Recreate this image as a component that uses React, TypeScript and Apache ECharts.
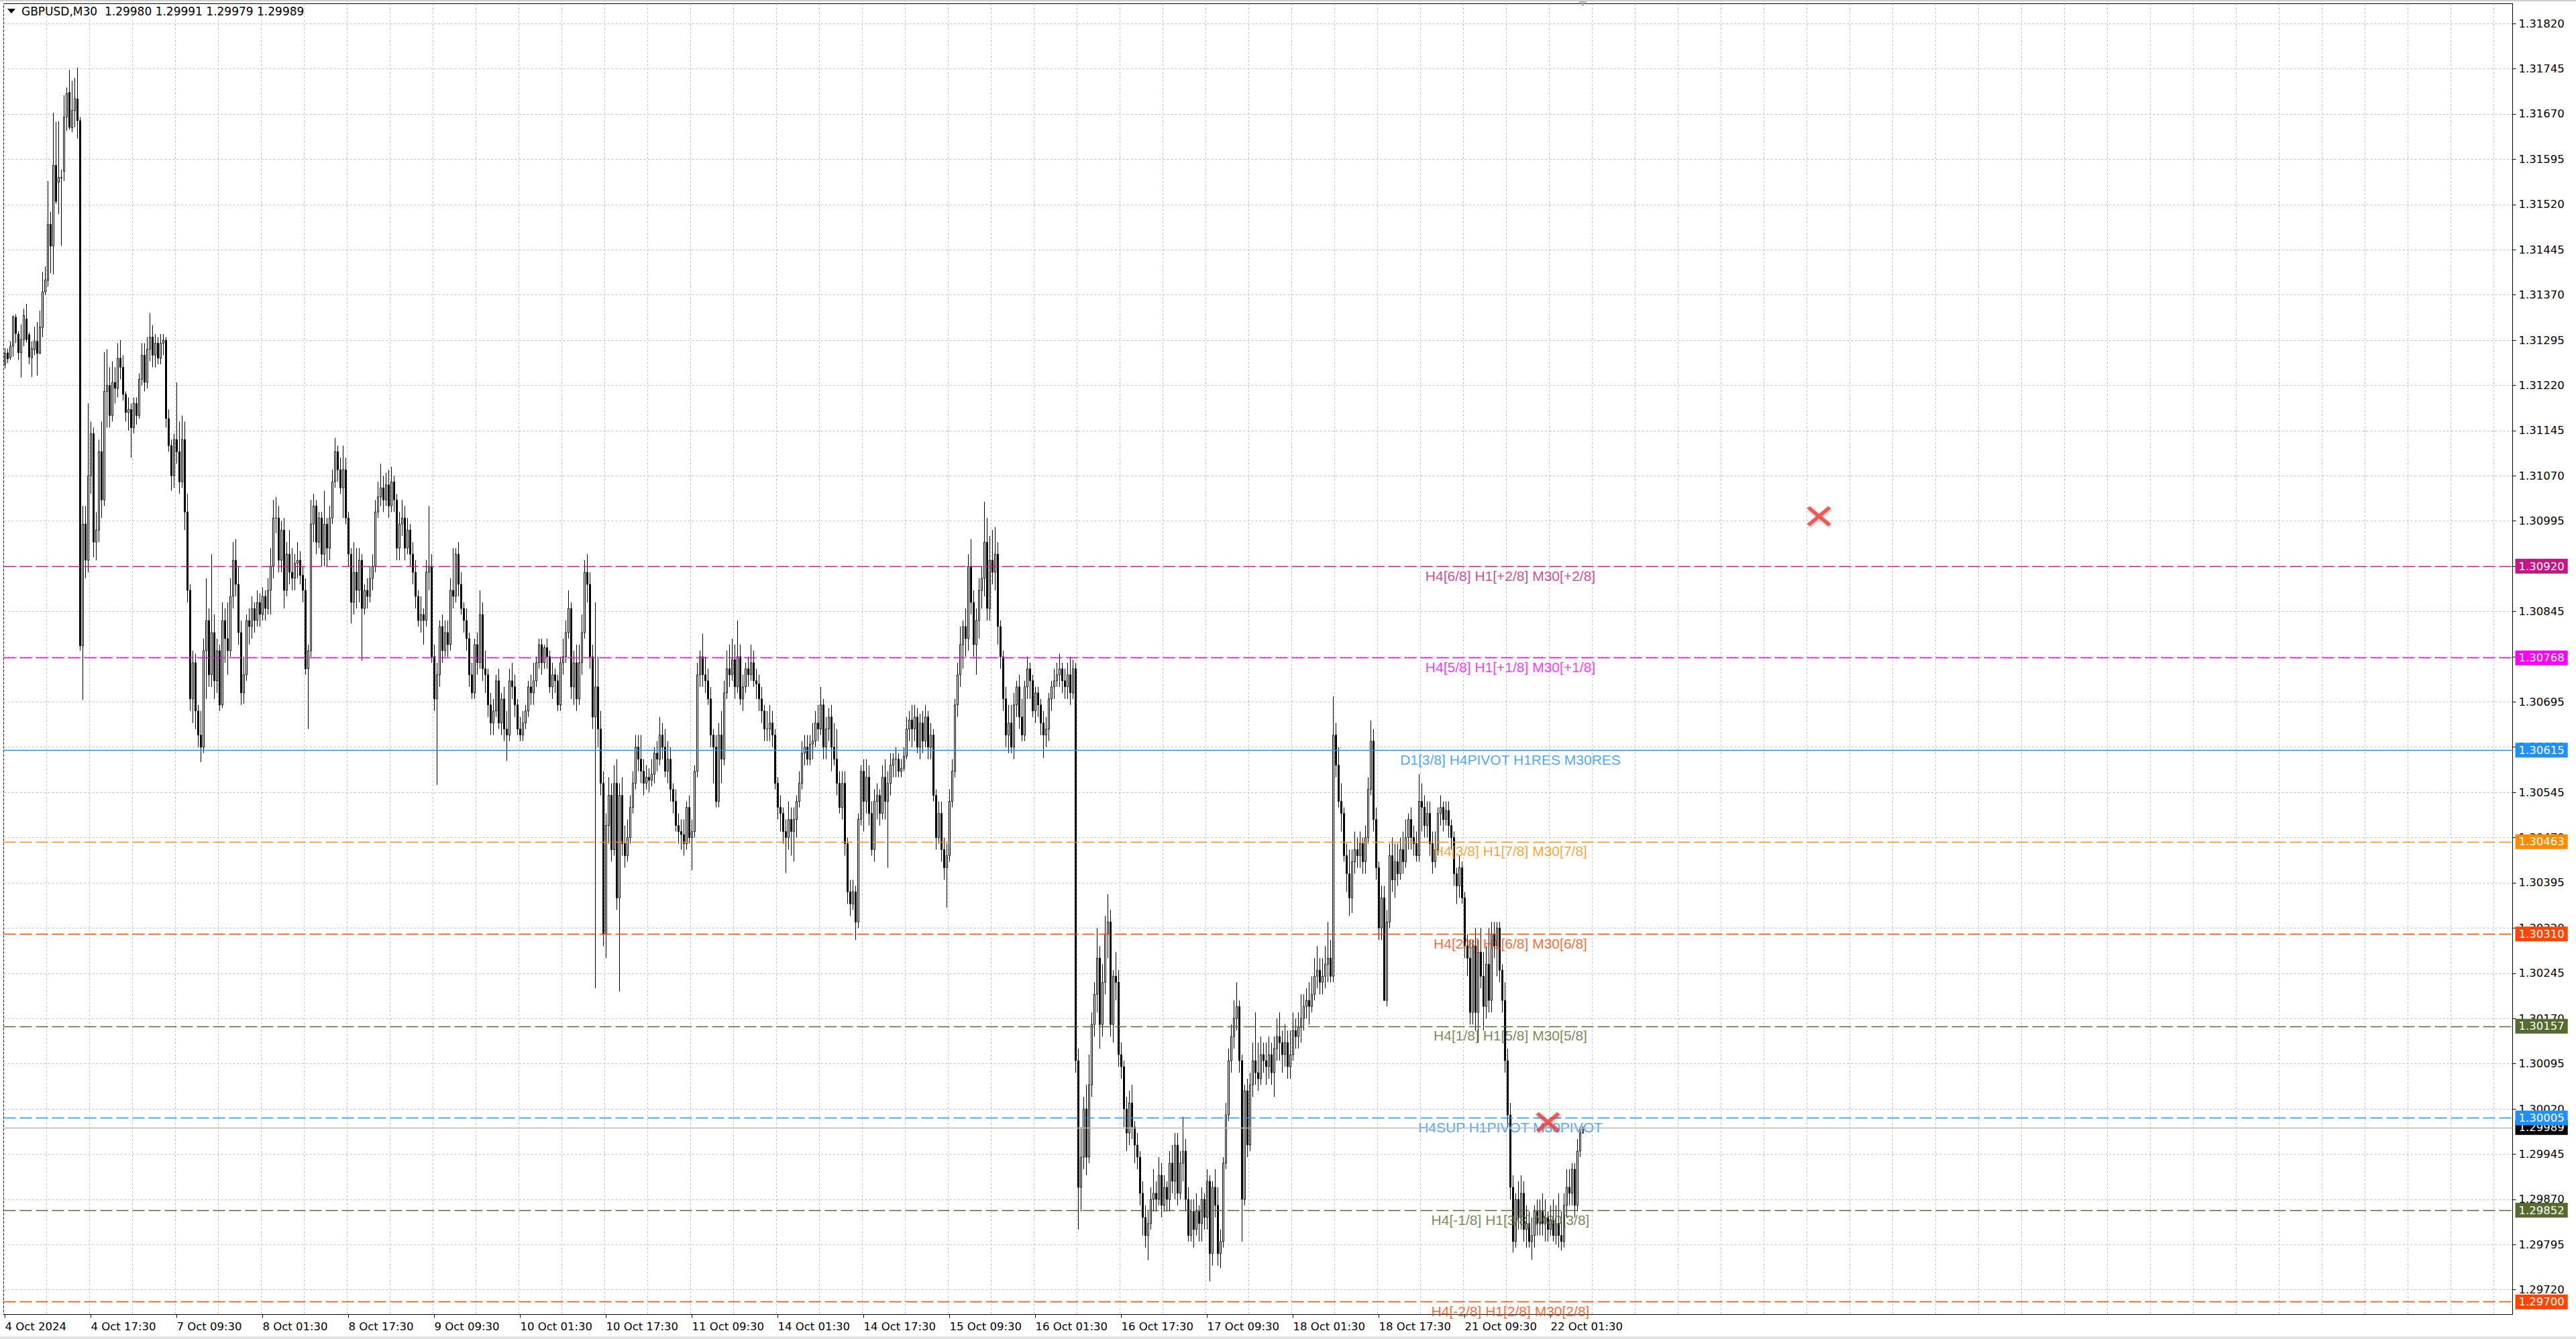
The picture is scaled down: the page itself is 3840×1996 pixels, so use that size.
import { useEffect, useRef } from 'react';
import * as echarts from 'echarts';

const SYMBOL = 'GBPUSD';
const TIMEFRAME = 'M30';
const MONTH = 'Oct';
const YEAR = 2024;

type Bar = [number, number, number, number]; // [open, close, low, high]

const oct04: Bar[] = [
  [1.31255,1.31273,1.31248,1.31282],[1.31274,1.31264,1.31257,1.31281],[1.31266,1.31285,1.31262,1.31293],
  [1.31285,1.31334,1.31268,1.31336],[1.31333,1.31306,1.31290,1.31338],[1.31305,1.31274,1.31262,1.31310],
  [1.31274,1.31296,1.31233,1.31321],[1.31296,1.31336,1.31285,1.31347],[1.31330,1.31296,1.31291,1.31355],
  [1.31304,1.31267,1.31255,1.31308],[1.31266,1.31281,1.31234,1.31293],[1.31279,1.31293,1.31270,1.31317],
  [1.31293,1.31273,1.31236,1.31325],[1.31273,1.31317,1.31272,1.31344],[1.31316,1.31375,1.31300,1.31408],
  [1.31375,1.31395,1.31370,1.31417],[1.31394,1.31487,1.31384,1.31559],[1.31487,1.31451,1.31406,1.31508],
  [1.31451,1.31585,1.31404,1.31672],[1.31585,1.31525,1.31521,1.31657],[1.31557,1.31565,1.31504,1.31658],
  [1.31564,1.31565,1.31451,1.31578],[1.31575,1.31665,1.31559,1.31701],[1.31665,1.31704,1.31642,1.31714],
  [1.31706,1.31648,1.31644,1.31743],[1.31647,1.31676,1.31640,1.31725],[1.31676,1.31696,1.31648,1.31730],
  [1.31695,1.31659,1.31629,1.31747],[1.31659,1.30788,1.30780,1.31665],[1.30788,1.30990,1.30698,1.31020],
  [1.30990,1.30930,1.30900,1.31020],[1.30930,1.31070,1.30910,1.31190],[1.31070,1.31140,1.31040,1.31160],
  [1.31140,1.30960,1.30935,1.31150],[1.30960,1.30980,1.30930,1.31010],[1.30980,1.31110,1.30960,1.31130],
  [1.31110,1.31030,1.31000,1.31160],[1.31030,1.31210,1.31020,1.31275],[1.31210,1.31220,1.31150,1.31280],
  [1.31220,1.31170,1.31150,1.31250],[1.31170,1.31225,1.31160,1.31260],[1.31225,1.31215,1.31190,1.31250],
  [1.31215,1.31265,1.31200,1.31290],[1.31265,1.31250,1.31230,1.31295],[1.31250,1.31205,1.31195,1.31270],
];

const oct07: Bar[] = [
  [1.31205,1.31175,1.31160,1.31210],[1.31175,1.31180,1.31145,1.31200],[1.31180,1.31150,1.31100,1.31190],
  [1.31150,1.31190,1.31140,1.31200],[1.31190,1.31170,1.31155,1.31200],[1.31170,1.31230,1.31165,1.31240],
  [1.31230,1.31270,1.31220,1.31290],[1.31270,1.31225,1.31210,1.31290],[1.31225,1.31280,1.31215,1.31300],
  [1.31280,1.31300,1.31260,1.31340],[1.31300,1.31270,1.31250,1.31320],[1.31270,1.31290,1.31250,1.31305],
  [1.31290,1.31265,1.31255,1.31300],[1.31265,1.31290,1.31255,1.31305],[1.31290,1.31295,1.31270,1.31305],
  [1.31295,1.31165,1.31150,1.31300],[1.31165,1.31120,1.31110,1.31180],[1.31120,1.31070,1.31045,1.31130],
  [1.31070,1.31130,1.31050,1.31140],[1.31130,1.31110,1.31090,1.31225],[1.31110,1.31060,1.31040,1.31160],
  [1.31060,1.31130,1.31050,1.31170],[1.31130,1.31010,1.30980,1.31160],[1.31010,1.30880,1.30860,1.31040],
  [1.30880,1.30700,1.30680,1.30890],[1.30700,1.30760,1.30660,1.30780],[1.30760,1.30680,1.30650,1.30775],
  [1.30680,1.30640,1.30620,1.30690],[1.30640,1.30620,1.30595,1.30680],[1.30620,1.30780,1.30610,1.30800],
  [1.30780,1.30830,1.30700,1.30900],[1.30830,1.30740,1.30720,1.30850],[1.30740,1.30810,1.30720,1.30940],
  [1.30810,1.30730,1.30700,1.30840],[1.30730,1.30780,1.30710,1.30800],[1.30780,1.30690,1.30680,1.30790],
  [1.30690,1.30830,1.30685,1.30860],[1.30830,1.30800,1.30760,1.30850],[1.30800,1.30780,1.30740,1.30860],
  [1.30780,1.30870,1.30770,1.30900],[1.30870,1.30930,1.30850,1.30960],[1.30930,1.30890,1.30870,1.30965],
  [1.30890,1.30810,1.30790,1.30920],[1.30810,1.30710,1.30690,1.30830],[1.30710,1.30740,1.30692,1.30770],
  [1.30740,1.30830,1.30730,1.30840],[1.30830,1.30820,1.30790,1.30850],[1.30820,1.30850,1.30800,1.30870],
];

const oct08: Bar[] = [
  [1.30850,1.30830,1.30810,1.30860],[1.30830,1.30860,1.30820,1.30880],[1.30860,1.30840,1.30820,1.30875],
  [1.30840,1.30870,1.30830,1.30885],[1.30870,1.30850,1.30830,1.30880],[1.30850,1.30880,1.30840,1.30900],
  [1.30880,1.30920,1.30840,1.30950],[1.30920,1.31000,1.30900,1.31030],[1.31000,1.31000,1.30975,1.31035],
  [1.31000,1.30930,1.30910,1.31020],[1.30930,1.30980,1.30910,1.30995],[1.30980,1.30880,1.30850,1.31000],
  [1.30880,1.30940,1.30870,1.30960],[1.30940,1.30910,1.30890,1.30980],[1.30910,1.30900,1.30880,1.30950],
  [1.30900,1.30925,1.30880,1.30940],[1.30925,1.30930,1.30900,1.30960],[1.30930,1.30905,1.30890,1.30945],
  [1.30905,1.30880,1.30860,1.30920],[1.30880,1.30750,1.30740,1.30900],[1.30750,1.30780,1.30650,1.30790],
  [1.30780,1.30990,1.30770,1.31030],[1.30990,1.31020,1.30960,1.31040],[1.31020,1.30960,1.30940,1.31030],
  [1.30960,1.31000,1.30950,1.31010],[1.31000,1.30940,1.30920,1.31010],[1.30940,1.30990,1.30920,1.31045],
  [1.30990,1.30950,1.30920,1.31000],[1.30950,1.31000,1.30930,1.31020],[1.31000,1.31060,1.30990,1.31080],
  [1.31060,1.31110,1.31050,1.31133],[1.31110,1.31080,1.31060,1.31120],[1.31080,1.31050,1.31040,1.31100],
  [1.31050,1.31080,1.31000,1.31120],[1.31080,1.31000,1.30990,1.31100],[1.31000,1.30940,1.30920,1.31010],
  [1.30940,1.30860,1.30825,1.30950],[1.30860,1.30910,1.30840,1.30960],[1.30910,1.30880,1.30850,1.30950],
  [1.30880,1.30930,1.30860,1.30950],[1.30930,1.30850,1.30763,1.30940],[1.30850,1.30880,1.30840,1.30890],
  [1.30880,1.30870,1.30850,1.30900],[1.30870,1.30900,1.30860,1.30920],[1.30900,1.30920,1.30880,1.30940],
  [1.30920,1.31010,1.30910,1.31030],[1.31010,1.31035,1.31000,1.31060],[1.31035,1.31050,1.31020,1.31090],
];

const oct09: Bar[] = [
  [1.31050,1.31030,1.31010,1.31070],[1.31030,1.31055,1.31020,1.31075],[1.31055,1.31020,1.31000,1.31080],
  [1.31020,1.31060,1.31010,1.31085],[1.31060,1.31030,1.31010,1.31070],[1.31030,1.30950,1.30930,1.31040],
  [1.30950,1.30990,1.30930,1.31010],[1.30990,1.31000,1.30970,1.31030],[1.31000,1.30950,1.30930,1.31020],
  [1.30950,1.30980,1.30940,1.31000],[1.30980,1.30940,1.30920,1.30990],[1.30940,1.30910,1.30890,1.30960],
  [1.30910,1.30870,1.30850,1.30930],[1.30870,1.30830,1.30820,1.30880],[1.30830,1.30840,1.30810,1.30870],
  [1.30840,1.30830,1.30790,1.30850],[1.30830,1.30910,1.30820,1.30930],[1.30910,1.30920,1.30880,1.31020],
  [1.30920,1.30770,1.30760,1.30940],[1.30770,1.30700,1.30680,1.30790],[1.30700,1.30740,1.30557,1.30760],
  [1.30740,1.30820,1.30720,1.30830],[1.30820,1.30780,1.30760,1.30840],[1.30780,1.30810,1.30770,1.30830],
  [1.30810,1.30790,1.30770,1.30830],[1.30790,1.30880,1.30780,1.30900],[1.30880,1.30870,1.30850,1.30950],
  [1.30870,1.30940,1.30860,1.30950],[1.30940,1.30890,1.30870,1.30960],[1.30890,1.30850,1.30840,1.30910],
  [1.30850,1.30830,1.30810,1.30860],[1.30830,1.30800,1.30780,1.30850],[1.30800,1.30740,1.30720,1.30810],
  [1.30740,1.30710,1.30700,1.30760],[1.30710,1.30790,1.30700,1.30800],[1.30790,1.30760,1.30740,1.30810],
  [1.30760,1.30840,1.30750,1.30880],[1.30840,1.30750,1.30730,1.30860],[1.30750,1.30740,1.30710,1.30780],
  [1.30740,1.30690,1.30670,1.30750],[1.30690,1.30660,1.30640,1.30710],[1.30660,1.30680,1.30640,1.30700],
  [1.30680,1.30730,1.30670,1.30740],[1.30730,1.30660,1.30650,1.30750],[1.30660,1.30700,1.30640,1.30710],
  [1.30700,1.30650,1.30630,1.30720],[1.30650,1.30640,1.30597,1.30680],[1.30640,1.30730,1.30630,1.30750],
];

const oct10: Bar[] = [
  [1.30730,1.30720,1.30700,1.30760],[1.30720,1.30690,1.30670,1.30740],[1.30690,1.30650,1.30640,1.30700],
  [1.30650,1.30640,1.30630,1.30670],[1.30640,1.30660,1.30630,1.30680],[1.30660,1.30680,1.30650,1.30690],
  [1.30680,1.30720,1.30670,1.30730],[1.30720,1.30710,1.30690,1.30740],[1.30710,1.30730,1.30690,1.30760],
  [1.30730,1.30760,1.30720,1.30770],[1.30760,1.30790,1.30750,1.30800],[1.30790,1.30760,1.30740,1.30800],
  [1.30760,1.30785,1.30750,1.30790],[1.30785,1.30770,1.30750,1.30800],[1.30770,1.30720,1.30710,1.30780],
  [1.30720,1.30740,1.30700,1.30760],[1.30740,1.30730,1.30710,1.30750],[1.30730,1.30690,1.30680,1.30740],
  [1.30690,1.30760,1.30680,1.30770],[1.30760,1.30770,1.30740,1.30800],[1.30770,1.30810,1.30760,1.30830],
  [1.30810,1.30850,1.30800,1.30880],[1.30850,1.30720,1.30700,1.30860],[1.30720,1.30760,1.30690,1.30780],
  [1.30760,1.30700,1.30680,1.30790],[1.30700,1.30760,1.30690,1.30790],[1.30760,1.30810,1.30740,1.30840],
  [1.30810,1.30910,1.30800,1.30930],[1.30910,1.30890,1.30860,1.30940],[1.30890,1.30770,1.30750,1.30910],
  [1.30770,1.30670,1.30650,1.30790],[1.30670,1.30720,1.30220,1.30860],[1.30720,1.30650,1.30620,1.30770],
  [1.30650,1.30560,1.30540,1.30680],[1.30560,1.30310,1.30290,1.30580],[1.30310,1.30490,1.30270,1.30510],
  [1.30490,1.30540,1.30460,1.30570],[1.30540,1.30450,1.30430,1.30560],[1.30450,1.30560,1.30440,1.30590],
  [1.30560,1.30370,1.30350,1.30600],[1.30370,1.30540,1.30215,1.30560],[1.30540,1.30460,1.30440,1.30570],
  [1.30460,1.30440,1.30420,1.30490],[1.30440,1.30470,1.30430,1.30500],[1.30470,1.30520,1.30460,1.30540],
  [1.30520,1.30560,1.30510,1.30580],[1.30560,1.30620,1.30550,1.30640],[1.30620,1.30600,1.30580,1.30640],
];

const oct11: Bar[] = [
  [1.30600,1.30580,1.30560,1.30640],[1.30580,1.30560,1.30540,1.30600],[1.30560,1.30570,1.30550,1.30590],
  [1.30570,1.30565,1.30545,1.30585],[1.30565,1.30575,1.30555,1.30600],[1.30575,1.30610,1.30560,1.30620],
  [1.30610,1.30600,1.30580,1.30630],[1.30600,1.30640,1.30590,1.30670],[1.30640,1.30620,1.30600,1.30660],
  [1.30620,1.30580,1.30570,1.30650],[1.30580,1.30600,1.30560,1.30630],[1.30600,1.30550,1.30530,1.30620],
  [1.30550,1.30530,1.30510,1.30560],[1.30530,1.30490,1.30480,1.30550],[1.30490,1.30480,1.30460,1.30510],
  [1.30480,1.30475,1.30450,1.30500],[1.30475,1.30460,1.30440,1.30500],[1.30460,1.30520,1.30450,1.30530],
  [1.30520,1.30470,1.30460,1.30540],[1.30470,1.30480,1.30416,1.30500],[1.30480,1.30580,1.30470,1.30590],
  [1.30580,1.30740,1.30570,1.30760],[1.30740,1.30770,1.30720,1.30780],[1.30770,1.30740,1.30720,1.30808],
  [1.30740,1.30730,1.30710,1.30770],[1.30730,1.30700,1.30690,1.30750],[1.30700,1.30640,1.30620,1.30720],
  [1.30640,1.30620,1.30560,1.30650],[1.30620,1.30530,1.30520,1.30640],[1.30530,1.30640,1.30520,1.30660],
  [1.30640,1.30600,1.30560,1.30680],[1.30600,1.30710,1.30590,1.30730],[1.30710,1.30750,1.30700,1.30780],
  [1.30750,1.30740,1.30720,1.30790],[1.30740,1.30765,1.30730,1.30800],[1.30765,1.30720,1.30700,1.30790],
  [1.30720,1.30770,1.30710,1.30830],[1.30770,1.30700,1.30690,1.30790],[1.30700,1.30720,1.30680,1.30740],
  [1.30720,1.30750,1.30710,1.30760],[1.30750,1.30740,1.30720,1.30770],[1.30740,1.30760,1.30730,1.30790],
  [1.30760,1.30730,1.30720,1.30780],[1.30730,1.30725,1.30700,1.30750],[1.30725,1.30700,1.30680,1.30740],
  [1.30700,1.30680,1.30660,1.30720],[1.30680,1.30650,1.30630,1.30690],[1.30650,1.30650,1.30630,1.30680],
];

const oct14: Bar[] = [
  [1.30650,1.30660,1.30630,1.30690],[1.30660,1.30640,1.30620,1.30680],[1.30640,1.30560,1.30550,1.30650],
  [1.30560,1.30520,1.30500,1.30570],[1.30520,1.30510,1.30480,1.30540],[1.30510,1.30480,1.30460,1.30520],
  [1.30480,1.30470,1.30411,1.30500],[1.30470,1.30500,1.30450,1.30530],[1.30500,1.30480,1.30440,1.30520],
  [1.30480,1.30500,1.30430,1.30520],[1.30500,1.30530,1.30470,1.30540],[1.30530,1.30560,1.30520,1.30580],
  [1.30560,1.30610,1.30550,1.30630],[1.30610,1.30620,1.30590,1.30640],[1.30620,1.30600,1.30590,1.30640],
  [1.30600,1.30625,1.30590,1.30640],[1.30625,1.30630,1.30600,1.30660],[1.30630,1.30660,1.30620,1.30680],
  [1.30660,1.30650,1.30630,1.30690],[1.30650,1.30690,1.30640,1.30720],[1.30690,1.30620,1.30600,1.30700],
  [1.30620,1.30650,1.30600,1.30670],[1.30650,1.30670,1.30630,1.30685],[1.30670,1.30620,1.30580,1.30690],
  [1.30620,1.30600,1.30590,1.30660],[1.30600,1.30560,1.30540,1.30650],[1.30560,1.30520,1.30510,1.30580],
  [1.30520,1.30560,1.30500,1.30580],[1.30560,1.30460,1.30440,1.30580],[1.30460,1.30380,1.30360,1.30470],
  [1.30380,1.30360,1.30340,1.30400],[1.30360,1.30380,1.30350,1.30400],[1.30380,1.30330,1.30300,1.30390],
  [1.30330,1.30500,1.30320,1.30510],[1.30500,1.30580,1.30490,1.30590],[1.30580,1.30530,1.30480,1.30600],
  [1.30530,1.30570,1.30510,1.30600],[1.30570,1.30510,1.30490,1.30590],[1.30510,1.30450,1.30440,1.30530],
  [1.30450,1.30530,1.30430,1.30550],[1.30530,1.30540,1.30500,1.30560],[1.30540,1.30510,1.30490,1.30550],
  [1.30510,1.30570,1.30500,1.30590],[1.30570,1.30530,1.30500,1.30600],[1.30530,1.30560,1.30420,1.30580],
  [1.30560,1.30590,1.30540,1.30610],[1.30590,1.30600,1.30570,1.30610],[1.30600,1.30600,1.30570,1.30620],
];

const oct15: Bar[] = [
  [1.30600,1.30580,1.30570,1.30610],[1.30580,1.30585,1.30570,1.30600],[1.30585,1.30605,1.30580,1.30620],
  [1.30605,1.30650,1.30600,1.30670],[1.30650,1.30665,1.30630,1.30680],[1.30665,1.30650,1.30620,1.30690],
  [1.30650,1.30670,1.30630,1.30690],[1.30670,1.30620,1.30610,1.30685],[1.30620,1.30660,1.30600,1.30675],
  [1.30660,1.30630,1.30610,1.30680],[1.30630,1.30670,1.30620,1.30690],[1.30670,1.30620,1.30600,1.30680],
  [1.30620,1.30640,1.30600,1.30660],[1.30640,1.30540,1.30530,1.30650],[1.30540,1.30470,1.30450,1.30550],
  [1.30470,1.30510,1.30460,1.30530],[1.30510,1.30450,1.30430,1.30530],[1.30450,1.30420,1.30400,1.30470],
  [1.30420,1.30440,1.30354,1.30460],[1.30440,1.30530,1.30430,1.30550],[1.30530,1.30580,1.30520,1.30600],
  [1.30580,1.30690,1.30570,1.30700],[1.30690,1.30740,1.30670,1.30760],[1.30740,1.30790,1.30720,1.30820],
  [1.30790,1.30820,1.30750,1.30830],[1.30820,1.30800,1.30770,1.30850],[1.30800,1.30920,1.30780,1.30940],
  [1.30920,1.30860,1.30840,1.30965],[1.30860,1.30790,1.30770,1.30880],[1.30790,1.30830,1.30740,1.30850],
  [1.30830,1.30880,1.30800,1.30900],[1.30880,1.30900,1.30850,1.30920],[1.30900,1.30960,1.30870,1.31027],
  [1.30960,1.30850,1.30830,1.31000],[1.30850,1.30930,1.30830,1.30970],[1.30930,1.30910,1.30890,1.30980],
  [1.30910,1.30940,1.30880,1.30985],[1.30940,1.30820,1.30790,1.30960],[1.30820,1.30770,1.30750,1.30830],
  [1.30770,1.30700,1.30680,1.30780],[1.30700,1.30640,1.30620,1.30720],[1.30640,1.30660,1.30610,1.30690],
  [1.30660,1.30620,1.30610,1.30690],[1.30620,1.30690,1.30600,1.30710],[1.30690,1.30720,1.30670,1.30730],
  [1.30720,1.30670,1.30650,1.30740],[1.30670,1.30640,1.30630,1.30700],[1.30640,1.30720,1.30630,1.30730],
];

const oct16: Bar[] = [
  [1.30720,1.30750,1.30700,1.30770],[1.30750,1.30730,1.30700,1.30760],[1.30730,1.30680,1.30670,1.30740],
  [1.30680,1.30710,1.30660,1.30720],[1.30710,1.30690,1.30670,1.30720],[1.30690,1.30660,1.30640,1.30700],
  [1.30660,1.30640,1.30602,1.30680],[1.30640,1.30650,1.30620,1.30670],[1.30650,1.30700,1.30630,1.30710],
  [1.30700,1.30720,1.30680,1.30730],[1.30720,1.30730,1.30700,1.30750],[1.30730,1.30740,1.30720,1.30760],
  [1.30740,1.30750,1.30720,1.30775],[1.30750,1.30730,1.30710,1.30760],[1.30730,1.30720,1.30700,1.30750],
  [1.30720,1.30740,1.30700,1.30760],[1.30740,1.30710,1.30690,1.30770],[1.30710,1.30750,1.30700,1.30765],
  [1.30750,1.30100,1.30080,1.30760],[1.30100,1.29890,1.29820,1.30120],[1.29890,1.29940,1.29850,1.29990],
  [1.29940,1.30020,1.29920,1.30040],[1.30020,1.29940,1.29910,1.30060],[1.29940,1.30060,1.29930,1.30110],
  [1.30060,1.30160,1.30040,1.30180],[1.30160,1.30210,1.30140,1.30230],[1.30210,1.30270,1.30180,1.30320],
  [1.30270,1.30160,1.30120,1.30290],[1.30160,1.30230,1.30140,1.30260],[1.30230,1.30310,1.30210,1.30340],
  [1.30310,1.30330,1.30270,1.30376],[1.30330,1.30160,1.30140,1.30350],[1.30160,1.30240,1.30130,1.30250],
  [1.30240,1.30230,1.30200,1.30280],[1.30230,1.30110,1.30090,1.30250],[1.30110,1.30090,1.30070,1.30130],
  [1.30090,1.30020,1.29990,1.30100],[1.30020,1.29980,1.29950,1.30040],[1.29980,1.30030,1.29960,1.30050],
  [1.30030,1.29990,1.29970,1.30060],[1.29990,1.29960,1.29930,1.30000],[1.29960,1.29940,1.29920,1.29980],
  [1.29940,1.29880,1.29860,1.29950],[1.29880,1.29840,1.29810,1.29900],[1.29840,1.29810,1.29790,1.29860],
  [1.29810,1.29830,1.29769,1.29850],[1.29830,1.29870,1.29820,1.29890],[1.29870,1.29880,1.29850,1.29920],
];

const oct17: Bar[] = [
  [1.29880,1.29870,1.29850,1.29900],[1.29870,1.29910,1.29860,1.29940],[1.29910,1.29860,1.29840,1.29930],
  [1.29860,1.29890,1.29850,1.29910],[1.29890,1.29870,1.29850,1.29900],[1.29870,1.29930,1.29850,1.29950],
  [1.29930,1.29900,1.29880,1.29960],[1.29900,1.29960,1.29870,1.29980],[1.29960,1.29880,1.29860,1.29980],
  [1.29880,1.29930,1.29870,1.29950],[1.29930,1.29950,1.29900,1.30007],[1.29950,1.29870,1.29850,1.29970],
  [1.29870,1.29810,1.29800,1.29890],[1.29810,1.29850,1.29800,1.29870],[1.29850,1.29820,1.29790,1.29870],
  [1.29820,1.29850,1.29810,1.29880],[1.29850,1.29830,1.29800,1.29860],[1.29830,1.29870,1.29800,1.29890],
  [1.29870,1.29840,1.29820,1.29880],[1.29840,1.29900,1.29820,1.29920],[1.29900,1.29780,1.29734,1.29910],
  [1.29780,1.29890,1.29760,1.29900],[1.29890,1.29860,1.29840,1.29920],[1.29860,1.29780,1.29760,1.29890],
  [1.29780,1.29800,1.29756,1.29820],[1.29800,1.29930,1.29790,1.29940],[1.29930,1.30010,1.29920,1.30030],
  [1.30010,1.30100,1.30000,1.30120],[1.30100,1.30140,1.30080,1.30160],[1.30140,1.30170,1.30120,1.30200],
  [1.30170,1.30190,1.30150,1.30230],[1.30190,1.30100,1.30080,1.30200],[1.30100,1.29870,1.29800,1.30110],
  [1.29870,1.30050,1.29860,1.30060],[1.30050,1.29960,1.29940,1.30070],[1.29960,1.30060,1.29950,1.30080],
  [1.30060,1.30100,1.30040,1.30130],[1.30100,1.30080,1.30060,1.30180],[1.30080,1.30070,1.30050,1.30130],
  [1.30070,1.30110,1.30060,1.30140],[1.30110,1.30100,1.30080,1.30130],[1.30100,1.30090,1.30060,1.30130],
  [1.30090,1.30110,1.30070,1.30140],[1.30110,1.30080,1.30060,1.30130],[1.30080,1.30120,1.30040,1.30140],
  [1.30120,1.30140,1.30100,1.30170],[1.30140,1.30130,1.30100,1.30180],[1.30130,1.30110,1.30080,1.30150],
];

const oct18: Bar[] = [
  [1.30110,1.30130,1.30090,1.30160],[1.30130,1.30090,1.30070,1.30150],[1.30090,1.30110,1.30070,1.30150],
  [1.30110,1.30150,1.30100,1.30180],[1.30150,1.30140,1.30120,1.30170],[1.30140,1.30155,1.30120,1.30180],
  [1.30155,1.30170,1.30130,1.30210],[1.30170,1.30190,1.30150,1.30210],[1.30190,1.30200,1.30170,1.30220],
  [1.30200,1.30190,1.30160,1.30230],[1.30190,1.30210,1.30180,1.30240],[1.30210,1.30240,1.30200,1.30270],
  [1.30240,1.30250,1.30220,1.30290],[1.30250,1.30230,1.30210,1.30270],[1.30230,1.30240,1.30210,1.30270],
  [1.30240,1.30260,1.30220,1.30290],[1.30260,1.30270,1.30230,1.30330],[1.30270,1.30240,1.30230,1.30300],
  [1.30240,1.30640,1.30230,1.30704],[1.30640,1.30590,1.30570,1.30660],[1.30590,1.30530,1.30520,1.30620],
  [1.30530,1.30510,1.30480,1.30560],[1.30510,1.30440,1.30430,1.30520],[1.30440,1.30410,1.30380,1.30460],
  [1.30410,1.30370,1.30340,1.30450],[1.30370,1.30430,1.30345,1.30450],[1.30430,1.30450,1.30410,1.30480],
  [1.30450,1.30440,1.30420,1.30470],[1.30440,1.30460,1.30420,1.30480],[1.30460,1.30430,1.30410,1.30470],
  [1.30430,1.30470,1.30410,1.30490],[1.30470,1.30550,1.30460,1.30570],[1.30550,1.30630,1.30540,1.30664],
  [1.30630,1.30500,1.30480,1.30650],[1.30500,1.30420,1.30400,1.30520],[1.30420,1.30320,1.30300,1.30430],
  [1.30320,1.30370,1.30300,1.30390],[1.30370,1.30200,1.30199,1.30390],[1.30200,1.30330,1.30190,1.30350],
  [1.30330,1.30440,1.30320,1.30460],[1.30440,1.30400,1.30380,1.30470],[1.30400,1.30430,1.30370,1.30460],
  [1.30430,1.30410,1.30390,1.30460],[1.30410,1.30450,1.30400,1.30470],[1.30450,1.30430,1.30410,1.30480],
  [1.30430,1.30470,1.30420,1.30500],[1.30470,1.30500,1.30450,1.30510],[1.30500,1.30470,1.30450,1.30520],
];

const oct21: Bar[] = [
  [1.30470,1.30460,1.30440,1.30490],[1.30460,1.30440,1.30430,1.30480],[1.30440,1.30530,1.30430,1.30575],
  [1.30530,1.30520,1.30480,1.30560],[1.30520,1.30490,1.30470,1.30540],[1.30490,1.30510,1.30470,1.30530],
  [1.30510,1.30460,1.30440,1.30530],[1.30460,1.30430,1.30410,1.30480],[1.30430,1.30450,1.30420,1.30480],
  [1.30450,1.30510,1.30440,1.30520],[1.30510,1.30520,1.30490,1.30540],[1.30520,1.30500,1.30480,1.30530],
  [1.30500,1.30515,1.30490,1.30530],[1.30515,1.30490,1.30470,1.30530],[1.30490,1.30470,1.30450,1.30500],
  [1.30470,1.30410,1.30390,1.30480],[1.30410,1.30390,1.30360,1.30420],[1.30390,1.30420,1.30370,1.30440],
  [1.30420,1.30370,1.30360,1.30430],[1.30370,1.30290,1.30270,1.30380],[1.30290,1.30270,1.30240,1.30310],
  [1.30270,1.30180,1.30160,1.30300],[1.30180,1.30290,1.30160,1.30300],[1.30290,1.30180,1.30150,1.30320],
  [1.30180,1.30280,1.30130,1.30300],[1.30280,1.30240,1.30220,1.30320],[1.30240,1.30190,1.30150,1.30280],
  [1.30190,1.30260,1.30170,1.30290],[1.30260,1.30200,1.30180,1.30320],[1.30200,1.30310,1.30180,1.30330],
  [1.30310,1.30290,1.30270,1.30330],[1.30290,1.30320,1.30240,1.30330],[1.30320,1.30250,1.30230,1.30330],
  [1.30250,1.30200,1.30180,1.30260],[1.30200,1.30100,1.30080,1.30230],[1.30100,1.30010,1.29990,1.30120],
  [1.30010,1.29890,1.29870,1.30030],[1.29890,1.29800,1.29782,1.29910],[1.29800,1.29870,1.29790,1.29880],
  [1.29870,1.29840,1.29820,1.29900],[1.29840,1.29880,1.29820,1.29910],[1.29880,1.29820,1.29800,1.29900],
  [1.29820,1.29830,1.29790,1.29860],[1.29830,1.29800,1.29790,1.29850],[1.29800,1.29810,1.29770,1.29840],
  [1.29810,1.29850,1.29790,1.29860],[1.29850,1.29830,1.29810,1.29870],[1.29830,1.29850,1.29810,1.29870],
];

const oct22: Bar[] = [
  [1.29850,1.29830,1.29810,1.29880],[1.29830,1.29840,1.29800,1.29870],[1.29840,1.29820,1.29800,1.29850],
  [1.29820,1.29835,1.29810,1.29860],[1.29835,1.29810,1.29800,1.29870],[1.29810,1.29830,1.29795,1.29860],
  [1.29830,1.29810,1.29790,1.29880],[1.29810,1.29800,1.29785,1.29850],[1.29800,1.29860,1.29790,1.29880],
  [1.29860,1.29890,1.29840,1.29920],[1.29890,1.29880,1.29860,1.29920],[1.29880,1.29920,1.29860,1.29930],
  [1.29920,1.29860,1.29840,1.29930],[1.29860,1.29950,1.29850,1.29970],[1.29950,1.29980,1.29940,1.29990],
  [1.29980,1.29989,1.29979,1.29991],
];

const sessions = [
  { day: 4, firstSlot: 3, bars: oct04 },
  { day: 7, firstSlot: 0, bars: oct07 },
  { day: 8, firstSlot: 0, bars: oct08 },
  { day: 9, firstSlot: 0, bars: oct09 },
  { day: 10, firstSlot: 0, bars: oct10 },
  { day: 11, firstSlot: 0, bars: oct11 },
  { day: 14, firstSlot: 0, bars: oct14 },
  { day: 15, firstSlot: 0, bars: oct15 },
  { day: 16, firstSlot: 0, bars: oct16 },
  { day: 17, firstSlot: 0, bars: oct17 },
  { day: 18, firstSlot: 0, bars: oct18 },
  { day: 21, firstSlot: 0, bars: oct21 },
  { day: 22, firstSlot: 0, bars: oct22 },
];

const priceTicks = [
  1.29720, 1.29795, 1.29870, 1.29945, 1.30020, 1.30095, 1.30170, 1.30245, 1.30320, 1.30395,
  1.30470, 1.30545, 1.30620, 1.30695, 1.30770, 1.30845, 1.30920, 1.30995, 1.31070, 1.31145,
  1.31220, 1.31295, 1.31370, 1.31445, 1.31520, 1.31595, 1.31670, 1.31745, 1.31820,
];

const levels = [
  { value: 1.30920, name: 'H4[6/8] H1[+2/8] M30[+2/8]', color: '#C71585', dashed: true },
  { value: 1.30768, name: 'H4[5/8] H1[+1/8] M30[+1/8]', color: '#FF00FF', dashed: true },
  { value: 1.30615, name: 'D1[3/8] H4PIVOT H1RES M30RES', color: '#1E90FF', dashed: false },
  { value: 1.30463, name: 'H4[3/8] H1[7/8] M30[7/8]', color: '#FF8C00', dashed: true },
  { value: 1.30310, name: 'H4[2/8] H1[6/8] M30[6/8]', color: '#FF4500', dashed: true },
  { value: 1.30157, name: 'H4[1/8] H1[5/8] M30[5/8]', color: '#556B2F', dashed: true },
  { value: 1.30005, name: 'H4SUP H1PIVOT M30PIVOT', color: '#1E90FF', dashed: true },
  { value: 1.29852, name: 'H4[-1/8] H1[3/8] M30[3/8]', color: '#556B2F', dashed: true },
  { value: 1.29700, name: 'H4[-2/8] H1[2/8] M30[2/8]', color: '#FF4500', dashed: true },
];

// chart objects (crosses) placed at [bar slot, price]
const crossMarks = [
  [676, 1.31003],
  [575, 1.29998],
];

const LEVEL_LABEL_SLOT = 561;
const VISIBLE_SLOTS = 935;
const Y_MIN = 1.29679;
const Y_MAX = 1.31853;
const AXIS_FONT = 'DejaVu Sans';
const LEVEL_FONT = 'Liberation Sans';
const X_PATH = 'path://M0,12 L12,0 L50,38 L88,0 L100,12 L62,50 L100,88 L88,100 L50,62 L12,100 L0,88 L38,50 Z';

function pad2(n: number) {
  return String(n).padStart(2, '0');
}

export default function App() {
  const ref = useRef<HTMLDivElement>(null);

  useEffect(() => {
    if (!ref.current) return;
    const chart = echarts.init(ref.current, null, { renderer: 'svg' });

    const allBars: Bar[] = sessions.flatMap((s) => s.bars);
    const nBars = allBars.length;
    const categories: string[] = [];
    sessions.forEach((s) =>
      s.bars.forEach((_, j) => {
        const slot = s.firstSlot + j;
        categories.push(`${s.day} ${MONTH} ${pad2(Math.floor(slot / 2))}:${slot % 2 ? '30' : '00'}`);
      })
    );
    while (categories.length < VISIBLE_SLOTS) categories.push(`+${categories.length}`);

    const last = allBars[nBars - 1];
    const fmt = (v: number) => v.toFixed(5);
    const header = `${SYMBOL},${TIMEFRAME}  ${fmt(last[0])} ${fmt(last[3])} ${fmt(last[2])} ${fmt(last[1])}`;
    const currentPrice = last[1];

    const labelShown = (i: number) => i % 32 === 0 && i < nBars;

    const option: any = {
      animation: false,
      backgroundColor: '#ffffff',
      grid: {
        left: 5.5,
        right: 94.5,
        top: 5.5,
        bottom: 36.5,
        show: true,
        borderColor: '#000000',
        borderWidth: 1,
        backgroundColor: '#ffffff',
      },
      xAxis: {
        type: 'category',
        data: categories,
        boundaryGap: true,
        axisLine: { show: true, lineStyle: { color: '#000000', width: 1 } },
        axisTick: {
          show: true,
          alignWithLabel: true,
          interval: (i: number) => labelShown(i),
          length: 5,
          lineStyle: { color: '#000000' },
        },
        axisLabel: {
          show: true,
          interval: (i: number) => labelShown(i),
          align: 'left',
          margin: 9,
          color: '#000000',
          fontFamily: AXIS_FONT,
          fontSize: 16.5,
          formatter: (v: string, i: number) => (i === 0 ? `${sessions[0].day} ${MONTH} ${YEAR}` : v),
        },
        splitLine: {
          show: true,
          interval: (i: number) => i % 16 === 0,
          lineStyle: { color: '#C0C0C0', type: [3, 3], width: 1 },
        },
      },
      yAxis: {
        type: 'value',
        position: 'right',
        min: Y_MIN,
        max: Y_MAX,
        scale: true,
        axisLine: { show: true, onZero: false, lineStyle: { color: '#000000', width: 1 } },
        axisTick: { show: true, customValues: priceTicks, length: 5, lineStyle: { color: '#000000' } },
        axisLabel: {
          show: true,
          customValues: priceTicks,
          formatter: (v: number) => v.toFixed(5),
          margin: 9,
          color: '#000000',
          fontFamily: AXIS_FONT,
          fontSize: 16.5,
        },
        splitLine: { show: true, lineStyle: { color: '#C0C0C0', type: [3, 3], width: 1 } },
      },
      series: [
        {
          type: 'candlestick',
          name: SYMBOL,
          z: 3,
          silent: true,
          large: false,
          barWidth: 2,
          data: allBars,
          itemStyle: {
            color: '#ffffff',
            color0: '#000000',
            borderColor: '#000000',
            borderColor0: '#000000',
            borderColorDoji: '#000000',
            borderWidth: 1,
          },
        },
        {
          type: 'scatter',
          name: 'levels',
          z: 4,
          silent: true,
          clip: false,
          symbolSize: 1,
          itemStyle: { color: 'rgba(0,0,0,0)' },
          label: {
            show: true,
            position: 'bottom',
            distance: 3,
            fontFamily: LEVEL_FONT,
            fontSize: 21,
            formatter: (p: any) => p.name,
          },
          data: levels.map((l) => ({ value: [LEVEL_LABEL_SLOT, l.value], name: l.name, label: { color: l.color } })),
          markLine: {
            silent: true,
            symbol: ['none', 'none'],
            animation: false,
            precision: 5,
            label: {
              show: true,
              position: 'end',
              distance: 4,
              color: '#ffffff',
              fontFamily: AXIS_FONT,
              fontSize: 16.5,
              padding: [3, 5, 2, 5],
              formatter: (p: any) => Number(p.value).toFixed(5),
            },
            data: [
              {
                yAxis: currentPrice,
                lineStyle: { color: '#B8B8B8', type: 'solid', width: 1.3 },
                label: { backgroundColor: '#000000' },
              },
              ...levels.map((l) => ({
                yAxis: l.value,
                lineStyle: { color: l.color, type: l.dashed ? [18, 6] : 'solid', width: 1.4, opacity: 1 },
                label: { backgroundColor: l.color },
              })),
            ],
          },
        },
        {
          type: 'scatter',
          name: 'crosses',
          z: 6,
          silent: true,
          clip: false,
          symbol: X_PATH,
          symbolSize: [36, 30],
          itemStyle: {
            color: '#EE3B3B',
            shadowBlur: 4,
            shadowColor: 'rgba(0,0,0,0.35)',
            shadowOffsetX: 1,
            shadowOffsetY: 2,
          },
          data: crossMarks,
        },
        {
          type: 'scatter',
          name: 'shift',
          z: 6,
          silent: true,
          clip: false,
          symbol: 'triangle',
          symbolRotate: 180,
          symbolSize: [14, 8],
          itemStyle: { color: '#A8A8A8' },
          data: [[nBars - 1, Y_MAX]],
        },
      ],
      graphic: [
        { type: 'rect', shape: { x: 0, y: 0, width: 3840, height: 2 }, style: { fill: '#CFCFCF' }, z: 10 },
        { type: 'rect', shape: { x: 0, y: 1992, width: 3840, height: 4 }, style: { fill: '#E4E4E4' }, z: 10 },
        { type: 'polygon', shape: { points: [[11, 13], [23, 13], [17, 20]] }, style: { fill: '#000000' }, z: 10 },
        {
          type: 'text',
          left: 32,
          top: 8,
          z: 10,
          style: { text: header, fill: '#000000', fontFamily: AXIS_FONT, fontSize: 17 },
        },
      ],
    };

    chart.setOption(option);
    return () => chart.dispose();
  }, []);

  return (
    <div
      ref={ref}
      style={{ position: 'fixed', left: 0, top: 0, width: '3840px', height: '1996px', background: '#ffffff' }}
    />
  );
}
